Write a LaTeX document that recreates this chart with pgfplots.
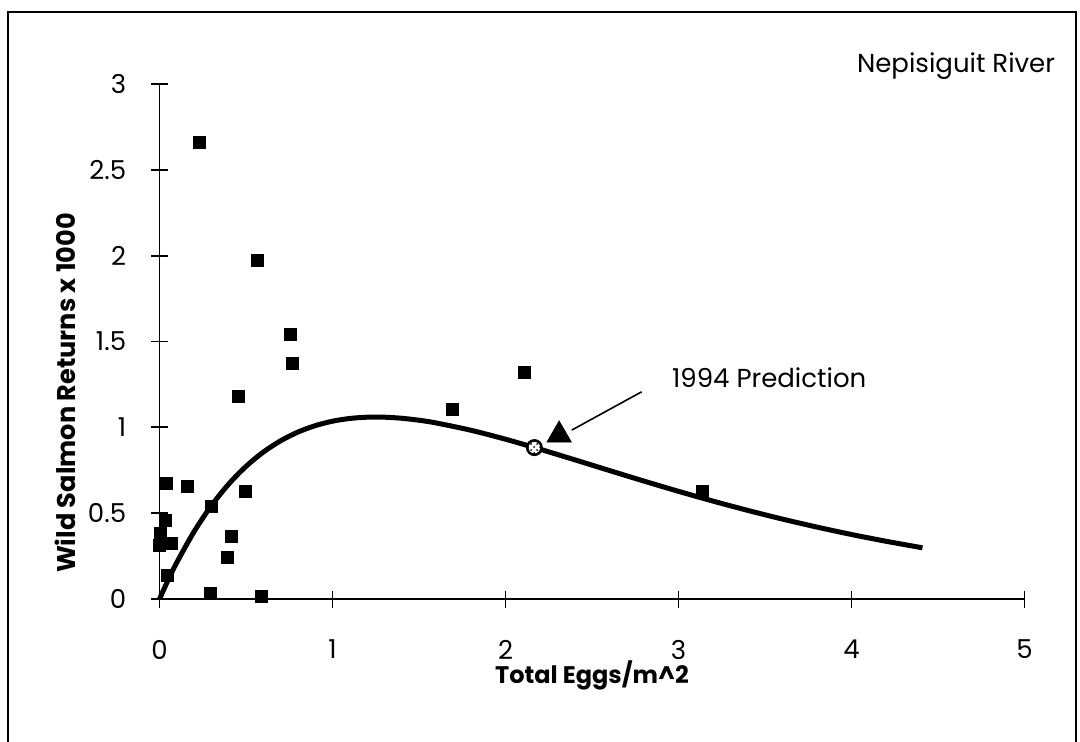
\documentclass[border=0pt]{standalone}
\usepackage{fontspec}
\setmainfont{Poppins}
\usepackage{pgfplots}
\pgfplotsset{compat=1.18}
\usetikzlibrary{patterns}

\begin{document}
\begin{tikzpicture}[x=1pt,y=1pt]
\useasboundingbox (0,0) rectangle (540,370.5);
% outer frame
\draw[line width=0.75pt] (4,-10) rectangle (538,364.5);
\begin{axis}[
  at={(79.75pt,71pt)}, anchor=south west,
  scale only axis, width=432.5pt, height=257.5pt,
  xmin=0, xmax=5, ymin=0, ymax=3,
  axis x line=bottom, axis y line=left,
  axis line style={-, line width=0.9pt},
  xtick={0,1,2,3,4,5}, ytick={0,0.5,1,1.5,2,2.5,3},
  tick align=center, major tick length=8.5pt,
  tick style={line width=0.9pt, black},
  /pgf/number format/assume math mode=true,
  tick label style={font=\fontsize{13}{15}\selectfont},
  xticklabel style={anchor=center, inner sep=0pt, yshift=-21pt},
  yticklabel style={anchor=east, inner sep=0pt, xshift=-12.25pt},
  xlabel={Total Eggs/m\textasciicircum 2},
  ylabel={Wild Salmon Returns x 1000},
  every axis x label/.style={at={(axis description cs:0.5,0)}, anchor=center, yshift=-38pt,
    font=\bfseries\fontsize{12}{14}\selectfont},
  every axis y label/.style={at={(axis description cs:0,0.4)}, anchor=center, rotate=90, yshift=47.25pt,
    font=\bfseries\fontsize{12.8}{14}\selectfont},
  clip=false,
]
% fitted stock-recruitment curve
\addplot[line width=2.5pt, smooth, black] coordinates {
 (0,0) (0.05,0.1107) (0.1,0.2128) (0.2,0.3928) (0.3,0.5440) (0.4,0.6695)
 (0.5,0.7725) (0.6,0.8558) (0.7,0.9216) (0.8,0.9723) (0.9,1.0098)
 (1.0,1.0357) (1.1,1.0517) (1.2,1.0591) (1.3,1.0591) (1.4,1.0529)
 (1.5,1.0414) (1.6,1.0254) (1.8,0.9830) (2.0,0.9308) (2.2,0.8724)
 (2.4,0.8110) (2.6,0.7487) (2.8,0.6871) (3.0,0.6273) (3.2,0.5702)
 (3.4,0.5163) (3.6,0.4658) (3.8,0.4190) (4.0,0.3758) (4.2,0.3363)
 (4.41,0.2984)
};
% observed returns
\addplot[only marks, mark=square*, mark size=3pt, mark options={fill=black, draw=black}] coordinates {
 (0.228,2.657) (0.565,1.975) (0.754,1.540) (0.770,1.373) (0.458,1.180)
 (0.040,0.674) (0.163,0.658) (0.494,0.629) (0.298,0.538) (0.036,0.460)
 (0.007,0.383) (0.000,0.314) (0.066,0.324) (0.417,0.363) (0.394,0.240)
 (0.047,0.136) (0.292,0.033) (0.588,0.017) (1.695,1.107) (2.109,1.320)
 (3.140,0.629)
};
% 1994 point on the curve
\addplot[only marks, mark=*, mark size=3.6pt, mark options={fill=white, draw=black, line width=1.3pt}] coordinates {(2.167,0.882)};
\addplot[only marks, mark=*, mark size=3.6pt, mark options={pattern=crosshatch dots, draw=none}] coordinates {(2.167,0.882)};
% 1994 prediction
\addplot[only marks, mark=triangle*, mark size=7pt, mark options={fill=black, draw=black}] coordinates {(2.31,0.955)};
\draw[line width=0.8pt] (axis cs:2.787,1.207) -- (axis cs:2.383,0.984);
\node[anchor=west, inner sep=0pt, font=\fontsize{13}{15}\selectfont] at (axis cs:2.961,1.29) {1994 Prediction};
\node[anchor=west, inner sep=0pt, font=\fontsize{13}{15}\selectfont] at (axis cs:4.03,3.104) {Nepisiguit River};
\end{axis}
\end{tikzpicture}
\end{document}
